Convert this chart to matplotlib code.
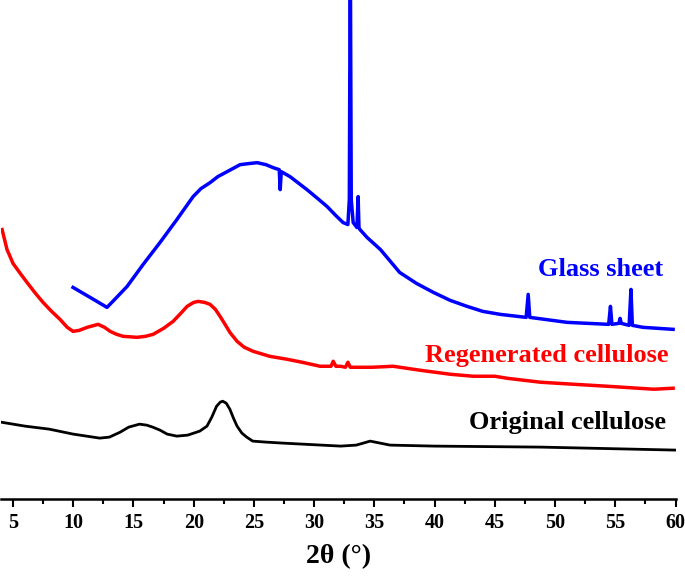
import matplotlib
matplotlib.use("Agg")
import matplotlib.pyplot as plt
from matplotlib.ticker import MultipleLocator

# values (intensity in arbitrary units)
orig_x = [4.0, 6.0, 8.0, 10.0, 12.2, 13.0, 13.9, 14.6, 15.5, 16.1, 16.6, 17.2, 17.8,
          18.6, 19.5, 20.5, 21.1, 21.5, 21.9, 22.2, 22.4, 22.7, 23.0, 23.3, 23.6,
          24.0, 24.4, 24.9, 26.0, 27.4, 32.2, 33.5, 34.65, 36.3, 40.0, 48.8, 60.0]
orig_y = [77, 73, 70, 65, 61, 62, 67, 72, 75, 74, 72, 69, 65,
          63, 64, 68, 73, 82, 93, 97, 98, 96, 90, 81, 73,
          66, 62, 58, 57, 56, 53, 54, 58, 54, 53, 52, 49]

regen_x = [4.09, 4.5, 5.0, 5.6, 6.16, 6.8, 7.49, 8.2, 8.9, 9.5, 9.98, 10.5, 11.15,
           12.06, 12.6, 13.06, 13.6, 14.14, 15.3, 16.0, 16.63, 17.5, 18.29, 19.0,
           19.45, 20.0, 20.37, 20.9, 21.36, 21.8, 22.19, 22.6, 23.0, 23.6, 24.2,
           24.93, 26.3, 27.76, 29.0, 30.5, 31.4, 31.58, 31.8, 32.2, 32.6, 32.8, 33.0,
           33.2, 34.8, 36.56, 38.8, 41.3, 43.2, 45.0, 46.0, 48.8, 51.5, 54.3, 58.2, 59.8]
regen_y = [270, 250, 236, 226, 217, 207, 197, 188, 180, 172, 168, 169, 172,
           175, 172, 168, 165, 163, 162, 163, 165, 171, 178, 187,
           193, 197, 198, 197, 195, 190, 183, 175, 167, 158, 152,
           148, 143, 140, 137, 133, 133, 138, 133, 133, 132, 137, 132,
           132, 132, 133, 129, 125, 123, 123, 121, 117, 115, 113, 110, 111]

glass_x = [9.98, 11.4, 12.8, 13.6, 14.47, 15.8, 17.2, 18.6, 19.95, 20.6, 21.36, 22.0,
           22.77, 23.85, 24.5, 25.27, 26.0, 26.6, 27.1, 27.18, 27.27, 28.0, 29.4,
           30.2, 31.08, 31.8, 32.4, 32.8, 32.92, 33.0, 33.08, 33.24, 33.55, 33.65,
           33.72, 33.8, 34.4, 35.5, 37.1, 38.5, 39.9, 41.3, 42.7, 44.0, 45.45, 47.6,
           47.77, 47.9, 51.0, 54.45, 54.6, 54.72, 55.3, 55.4, 55.5, 56.15, 56.3,
           56.42, 57.3, 59.8]
glass_y = [212, 202, 192, 202, 213, 235, 257, 280, 303, 311, 317, 323,
           328, 335, 336, 337, 335, 332, 330, 310, 328, 323, 310,
           302, 293, 284, 277, 275, 300, 560, 300, 277, 272, 303,
           272, 270, 262, 250, 227, 216, 207, 199, 193, 188, 185, 182,
           205, 182, 177, 175, 193, 175, 176, 181, 176, 174, 210,
           174, 172, 170]

ticks = [5, 10, 15, 20, 25, 30, 35, 40, 45, 50, 55, 60]

plt.rcParams['font.family'] = ['Liberation Serif', 'DejaVu Serif']
plt.rcParams['font.weight'] = 'bold'

fig = plt.figure(figsize=(6.85, 5.77), dpi=100)
ax = fig.add_axes([1 / 685, 78 / 577, 674.5 / 685, 499 / 577])

ax.plot(orig_x, orig_y, color='black', lw=2.0)
ax.plot(regen_x, regen_y, color='#ff0000', lw=2.5)
ax.plot(glass_x, glass_y, color='#0000ff', lw=2.5)

ax.text(59.0, 230, 'Glass sheet', color='#0000ff', fontsize=19,
        fontweight='bold', ha='right', va='center')
ax.text(59.4, 144, 'Regenerated cellulose', color='#ff0000', fontsize=19,
        fontweight='bold', ha='right', va='center')
ax.text(59.2, 77, 'Original cellulose', color='black', fontsize=19,
        fontweight='bold', ha='right', va='center')

ax.set_xlim(4, 60)
ax.set_ylim(0, 500)
ax.set_xticks(ticks)
ax.xaxis.set_minor_locator(MultipleLocator(2.5))
ax.tick_params(axis='x', which='major', direction='out', length=6, width=1.5,
               labelsize=14.5, pad=4)
ax.tick_params(axis='x', which='minor', direction='out', length=3.5, width=1.5)
for lbl in ax.get_xticklabels():
    lbl.set_fontweight('bold')
ax.set_yticks([])
for side in ['left', 'right', 'top']:
    ax.spines[side].set_visible(False)
ax.spines['bottom'].set_linewidth(1.8)

ax.set_xlabel('2θ (°)', fontsize=20, fontweight='bold', labelpad=8)

fig.savefig('out.png', dpi=100)
